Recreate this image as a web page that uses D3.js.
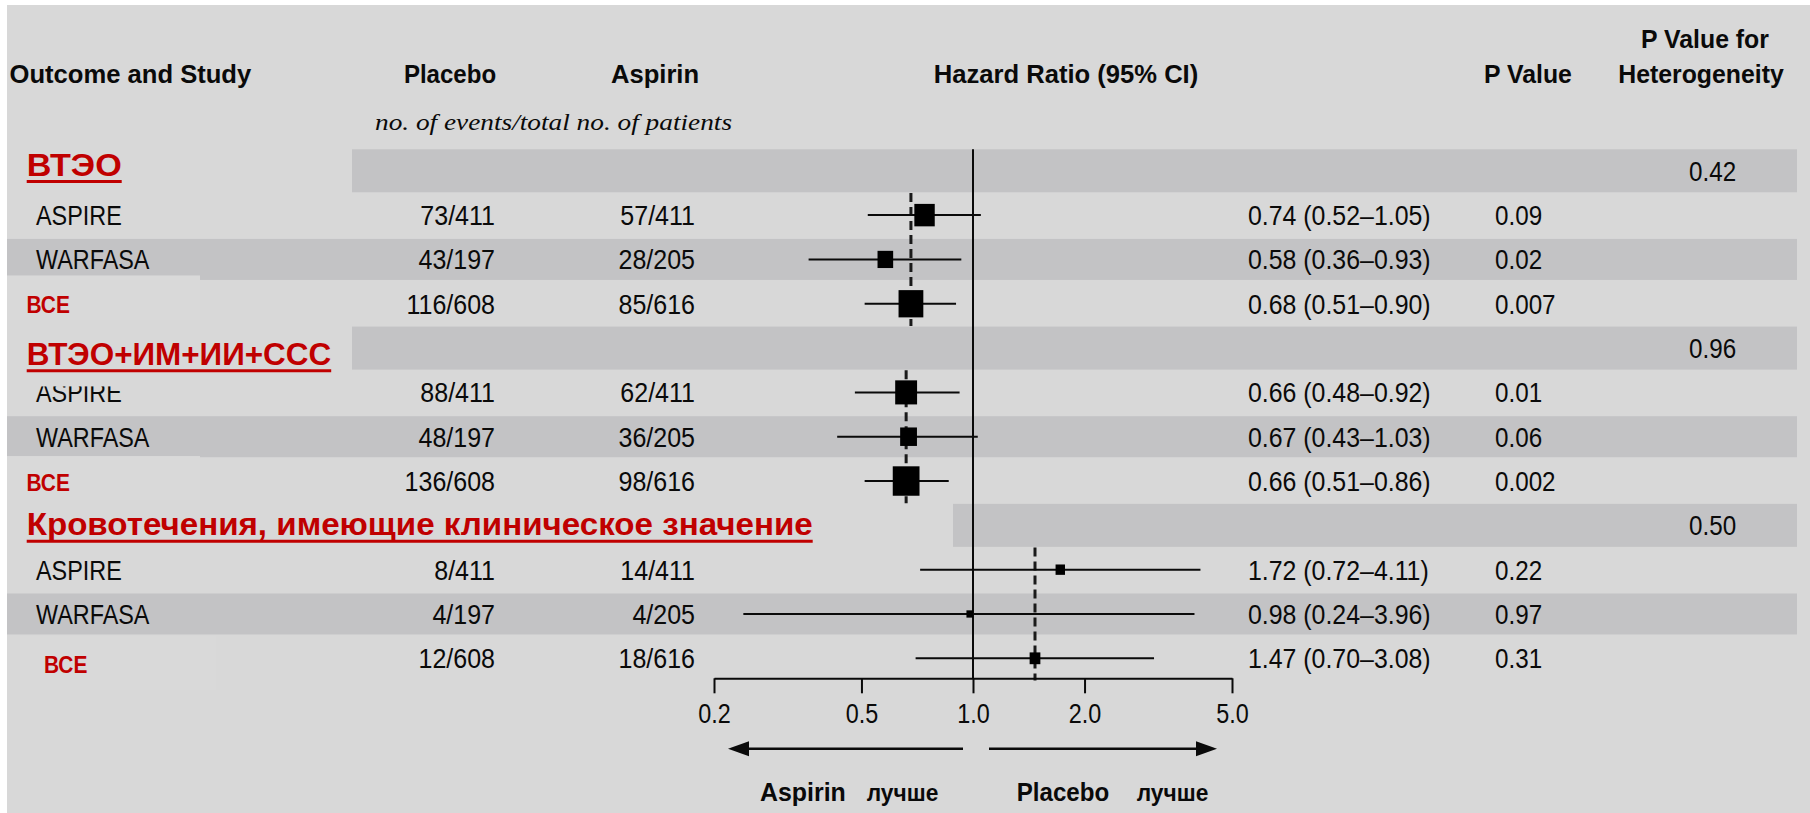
<!DOCTYPE html>
<html>
<head>
<meta charset="utf-8">
<script src="https://cdn.jsdelivr.net/npm/d3@7"></script>
<style>
  html, body { margin: 0; padding: 0; background: #fff; }
  svg { display: block; }
  text { fill: #0a0a0a; }
  .hdr  { font-family: "Liberation Sans", Arial, sans-serif; font-weight: bold; font-size: 25.6px; }
  .sub  { font-family: "Liberation Serif", "Times New Roman", serif; font-style: italic; font-size: 24px; }
  .cell { font-family: "Liberation Sans", Arial, sans-serif; font-size: 27.5px; }
  .grp  { font-family: "Liberation Sans", Arial, sans-serif; font-weight: bold; font-size: 31.3px; fill: #c00000; }
  .pool { font-family: "Liberation Sans", Arial, sans-serif; font-weight: bold; font-size: 24.6px; fill: #c00000; }
  .foot { font-family: "Liberation Sans", Arial, sans-serif; font-weight: bold; font-size: 26.5px; }
  .better { font-family: "Liberation Sans", Arial, sans-serif; font-weight: bold; font-size: 24px; }
  .axis text { font-family: "Liberation Sans", Arial, sans-serif; font-size: 27.5px; fill: #0a0a0a; }
</style>
</head>
<body>
<svg id="chart" width="1810" height="813"></svg>
<script>
// ---- data ----------------------------------------------------------------
const groups      = ["ВТЭО", "ВТЭО+ИМ+ИИ+ССС", "Кровотечения, имеющие клиническое значение"];
const groupHetP   = ["0.42", "0.96", "0.50"];
const studyNames  = ["ASPIRE", "WARFASA", "ВСЕ"];          // last entry = pooled row
const rowGroup    = [0, 0, 0, 1, 1, 1, 2, 2, 2];
const rowStudy    = [0, 1, 2, 0, 1, 2, 0, 1, 2];
const placeboEvents = [73, 43, 116, 88, 48, 136, 8, 4, 12];
const placeboTotal  = [411, 197, 608, 411, 197, 608, 411, 197, 608];
const aspirinEvents = [57, 28, 85, 62, 36, 98, 14, 4, 18];
const aspirinTotal  = [411, 205, 616, 411, 205, 616, 411, 205, 616];
const hazardRatio = [0.74, 0.58, 0.68, 0.66, 0.67, 0.66, 1.72, 0.98, 1.47];
const ciLower     = [0.52, 0.36, 0.51, 0.48, 0.43, 0.51, 0.72, 0.24, 0.70];
const ciUpper     = [1.05, 0.93, 0.90, 0.92, 1.03, 0.86, 4.11, 3.96, 3.08];
const pValues     = ["0.09", "0.02", "0.007", "0.01", "0.06", "0.002", "0.22", "0.97", "0.31"];
const axisTicks   = [0.2, 0.5, 1.0, 2.0, 5.0];

// ---- layout --------------------------------------------------------------
const W = 1810, H = 813;
const BG = "#d8d8d8", BAND = "#c3c3c5", RED = "#c00000", INK = "#0a0a0a";
const RIGHT_EDGE = 1797;
const col = { name: 36, placebo: 495, aspirin: 695, hr: 1248, p: 1495, het: 1689 };
const groupBandX = [352, 352, 953];
const groupTitleDy = [5, 17, 10];
const groupTitleWidth = [95, 304.5, 786];
const poolLabelX = [26.5, 26.5, 44];
const poolLabelDy = [9, 10, 15];
const poolPatch = [[7, 193, -28.3, 44], [7, 193, -25, 44], [20, 196, -21.6, 53.3]];
const axisY = 678.3;

const svg = d3.select("#chart");
svg.append("rect").attr("width", W).attr("height", H).attr("fill", "#fff");
svg.append("rect").attr("x", 7).attr("y", 5).attr("width", W - 7).attr("height", H - 5).attr("fill", BG);

const x = d3.scaleLog().domain([0.2, 5]).range([714, 1232]);
const y = d3.scalePoint().domain(d3.range(12)).range([170.8, 658.3]);
const step = y.step();
const rowIndex = i => rowGroup[i] * 4 + 1 + rowStudy[i];

// box side grows with precision of the estimate (1 / SE of log HR)
const precision = i => 2 * 1.96 / (Math.log(ciUpper[i]) - Math.log(ciLower[i]));
const boxW = d3.scaleLinear().domain([0, 10]).range([2, 35]);

function label(parent, px, py, str, cls, anchor, sx) {
  return parent.append("text")
    .attr("class", cls)
    .attr("transform", `translate(${px},${py}) scale(${sx || 1},1)`)
    .attr("text-anchor", anchor || "start")
    .text(str);
}

// ---- bands ---------------------------------------------------------------
const bands = svg.append("g");
groups.forEach((g, gi) => {
  bands.append("rect")
    .attr("x", groupBandX[gi]).attr("y", y(gi * 4) - 21.5)
    .attr("width", RIGHT_EDGE - groupBandX[gi]).attr("height", 43)
    .attr("fill", BAND);
});
d3.range(9).filter(i => rowStudy[i] === 1).forEach(i => {
  bands.append("rect")
    .attr("x", 7).attr("y", y(rowIndex(i)) - 20.5)
    .attr("width", RIGHT_EDGE - 7).attr("height", 41)
    .attr("fill", BAND);
});
// plain panels behind pooled labels
d3.range(9).filter(i => rowStudy[i] === 2).forEach(i => {
  const p = poolPatch[rowGroup[i]];
  bands.append("rect")
    .attr("x", p[0]).attr("y", y(rowIndex(i)) + p[2])
    .attr("width", p[1]).attr("height", p[3])
    .attr("fill", "#d9d9d9");
});

// ---- column headers ------------------------------------------------------
const hdr = svg.append("g");
label(hdr, 9.5, 83.3, "Outcome and Study", "hdr");
label(hdr, 450, 83.3, "Placebo", "hdr", "middle", 0.94);
label(hdr, 655, 83.3, "Aspirin", "hdr", "middle");
label(hdr, 1066, 83.3, "Hazard Ratio (95% CI)", "hdr", "middle");
label(hdr, 1528, 83.3, "P Value", "hdr", "middle", 0.97);
label(hdr, 1705, 47.5, "P Value for", "hdr", "middle", 0.97);
label(hdr, 1701, 83.3, "Heterogeneity", "hdr", "middle", 0.97);
hdr.append("text").attr("class", "sub")
  .attr("x", 375).attr("y", 130)
  .attr("textLength", 357).attr("lengthAdjust", "spacingAndGlyphs")
  .text("no. of events/total no. of patients");

// ---- table cells ---------------------------------------------------------
const cells = svg.append("g");
const f2 = d3.format(".2f");
d3.range(9).forEach(i => {
  const cy = y(rowIndex(i));
  const base = cy + 10;
  if (rowStudy[i] === 2) {
    label(cells, poolLabelX[rowGroup[i]], cy + poolLabelDy[rowGroup[i]], studyNames[2], "pool", "start", 0.85);
  } else {
    label(cells, col.name, base, studyNames[rowStudy[i]], "cell", "start", 0.85);
  }
  label(cells, col.placebo, base, `${placeboEvents[i]}/${placeboTotal[i]}`, "cell", "end", 0.91);
  label(cells, col.aspirin, base, `${aspirinEvents[i]}/${aspirinTotal[i]}`, "cell", "end", 0.91);
  label(cells, col.hr, base, `${f2(hazardRatio[i])} (${f2(ciLower[i])}–${f2(ciUpper[i])})`, "cell", "start", 0.905);
  label(cells, col.p, base, pValues[i], "cell", "start", 0.88);
});
groups.forEach((g, gi) => {
  label(cells, col.het, y(gi * 4) + 10, groupHetP[gi], "cell", "start", 0.88);
});

// the second outcome title sits on a plain panel that overlaps the next row
svg.append("rect").attr("x", 7).attr("y", y(4) - 21.4).attr("width", 338)
  .attr("height", y(5) - 6 - (y(4) - 21.4)).attr("fill", BG);

// ---- outcome titles (underlined) ----------------------------------------
const titles = svg.append("g");
groups.forEach((g, gi) => {
  const by = y(gi * 4) + groupTitleDy[gi];
  titles.append("text").attr("class", "grp")
    .attr("x", 26.7).attr("y", by)
    .attr("textLength", groupTitleWidth[gi]).attr("lengthAdjust", "spacingAndGlyphs")
    .text(g);
  titles.append("line")
    .attr("x1", 26.7).attr("x2", 26.7 + groupTitleWidth[gi])
    .attr("y1", by + 5.8).attr("y2", by + 5.8)
    .attr("stroke", RED).attr("stroke-width", 3);
});

// ---- forest plot ---------------------------------------------------------
const plot = svg.append("g");

// line of no effect
plot.append("line")
  .attr("x1", x(1)).attr("x2", x(1))
  .attr("y1", y(0) - 21.5).attr("y2", axisY)
  .attr("stroke", INK).attr("stroke-width", 2);

// pooled estimate reference (dashed)
d3.range(9).filter(i => rowStudy[i] === 2).forEach(i => {
  const g = rowGroup[i];
  plot.append("line")
    .attr("x1", x(hazardRatio[i])).attr("x2", x(hazardRatio[i]))
    .attr("y1", y(g * 4 + 1) - step / 2).attr("y2", y(g * 4 + 3) + step / 2)
    .attr("stroke", "#1a1a1a").attr("stroke-width", 3)
    .attr("stroke-dasharray", "9,5");
});

// confidence intervals
d3.range(9).forEach(i => {
  const cy = y(rowIndex(i));
  plot.append("line")
    .attr("x1", x(ciLower[i])).attr("x2", x(ciUpper[i]))
    .attr("y1", cy).attr("y2", cy)
    .attr("stroke", INK).attr("stroke-width", 2);
});

// point estimates
d3.range(9).forEach(i => {
  const cy = y(rowIndex(i));
  const w = boxW(precision(i));
  const h = w * 1.1;
  plot.append("rect")
    .attr("x", x(hazardRatio[i]) - w / 2).attr("y", cy - h / 2)
    .attr("width", w).attr("height", h)
    .attr("fill", "#000");
});

// axis
const axis = d3.axisBottom(x)
  .tickValues(axisTicks)
  .tickFormat(d3.format(".1f"))
  .tickSize(15)
  .tickSizeOuter(0);
const ax = svg.append("g").attr("class", "axis")
  .attr("transform", `translate(0,${axisY})`)
  .call(axis);
ax.select(".domain").attr("stroke", INK).attr("stroke-width", 2);
ax.selectAll(".tick line").attr("stroke", INK).attr("stroke-width", 2);
ax.selectAll(".tick text").attr("y", 45).attr("dy", 0).attr("transform", "scale(0.85,1)");

// direction arrows
const arrowY = 748.7;
const arrows = svg.append("g").attr("fill", INK).attr("stroke", INK);
const leftTip = x(0.2) + 14, leftEnd = x(1) - 10;
const rightStart = x(1) + 16, rightTip = x(5) - 15;
arrows.append("line").attr("x1", leftTip + 10).attr("x2", leftEnd)
  .attr("y1", arrowY).attr("y2", arrowY).attr("stroke-width", 2.5);
arrows.append("path").attr("stroke", "none")
  .attr("d", `M${leftTip},${arrowY} L${leftTip + 21},${arrowY - 7.5} L${leftTip + 21},${arrowY + 7.5} Z`);
arrows.append("line").attr("x1", rightStart).attr("x2", rightTip - 10)
  .attr("y1", arrowY).attr("y2", arrowY).attr("stroke-width", 2.5);
arrows.append("path").attr("stroke", "none")
  .attr("d", `M${rightTip},${arrowY} L${rightTip - 21},${arrowY - 7.5} L${rightTip - 21},${arrowY + 7.5} Z`);

// direction labels
const foot = svg.append("g");
label(foot, 760, 800.7, "Aspirin", "foot", "start", 0.94);
foot.append("text").attr("class", "better").attr("x", 866.7).attr("y", 800.7)
  .attr("textLength", 71.6).attr("lengthAdjust", "spacingAndGlyphs").text("лучше");
label(foot, 1016.7, 800.7, "Placebo", "foot", "start", 0.91);
foot.append("text").attr("class", "better").attr("x", 1136.7).attr("y", 800.7)
  .attr("textLength", 71.6).attr("lengthAdjust", "spacingAndGlyphs").text("лучше");
</script>
</body>
</html>
